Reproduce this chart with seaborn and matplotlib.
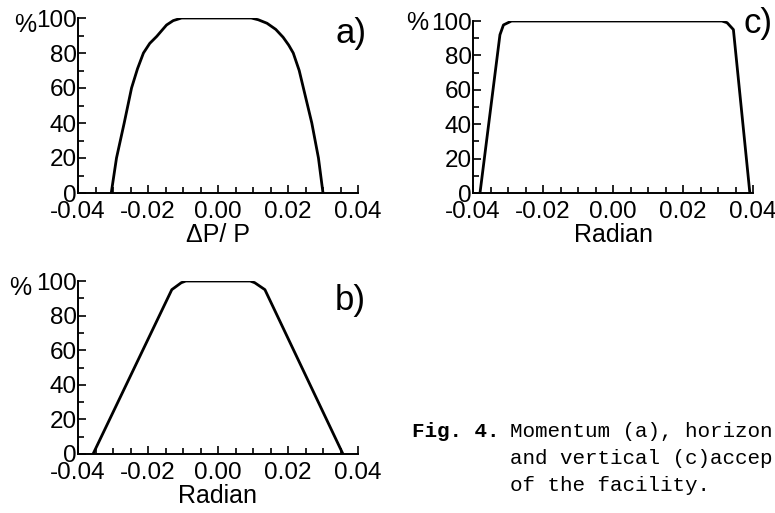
import numpy as np
import pandas as pd
import matplotlib
matplotlib.use("Agg")
import matplotlib.pyplot as plt
from matplotlib.ticker import MultipleLocator
import seaborn as sns

# ---- data ----
a_x = [-0.0305, -0.0290, -0.0268, -0.0247, -0.0230, -0.0213, -0.0195, -0.0175,
       -0.0160, -0.0147, -0.0128, -0.0104, 0.0, 0.0095, 0.0115, 0.0140, 0.0165,
       0.0186, 0.0202, 0.0215, 0.0232, 0.0244, 0.0268, 0.0287, 0.0300]
a_y = [0, 20, 40, 60, 71, 80, 85.5, 89.5, 93, 96, 98.5, 100, 100, 100, 99,
       97, 93.5, 89, 84.5, 80, 70, 60, 40, 20, 0]

b_x = [-0.0357, -0.0132, -0.0105, -0.0092, 0.0092, 0.0105, 0.0134, 0.0357]
b_y = [0, 95, 99, 100, 100, 99, 95, 0]

c_x = [-0.0380, -0.0323, -0.0313, -0.0290, 0.0311, 0.0326, 0.0344, 0.0391]
c_y = [0, 92, 97.7, 100, 100, 99, 95, 0]

x_ticks = [-0.04, -0.02, 0.00, 0.02, 0.04]
x_ticklabels = ["-0.04", "-0.02", "0.00", "0.02", "0.04"]
y_ticks = [0, 20, 40, 60, 80, 100]
y_ticklabels = ["0", "20", "40", "60", "80", "100"]

panels = [
    ("a)", "\u0394P/ P", a_x, a_y),
    ("b)", "Radian", b_x, b_y),
    ("c)", "Radian", c_x, c_y),
]

caption_bold = "Fig. 4."
caption_lines = ["Momentum (a), horizon",
                 "and vertical (c)accep",
                 "of the facility."]

# ---- styling ----
sns.set_theme(style="ticks")
plt.rcParams["font.family"] = ["Liberation Sans", "DejaVu Sans"]

W, H = 775, 513
fig = plt.figure(figsize=(W / 100, H / 100), dpi=100)

def rect(x0, y0, x1, y1):
    # pixel box (top-origin) -> figure fraction rect
    return [x0 / W, 1 - y1 / H, (x1 - x0) / W, (y1 - y0) / H]

boxes = {
    "a)": rect(78, 18, 358, 193),
    "b)": rect(78, 281, 358, 454),
    "c)": rect(473, 21, 753, 193),
}
pct_pos = {"a)": (-0.19, 0.96), "b)": (-0.205, 0.96), "c)": (-0.20, 0.99)}
tag_pos = {"a)": (0.975, 0.91), "b)": (0.971, 0.89), "c)": (1.018, 0.985)}

for tag, xlabel, xs, ys in panels:
    ax = fig.add_axes(boxes[tag])
    df = pd.DataFrame({"x": xs, "y": ys})
    sns.lineplot(data=df, x="x", y="y", ax=ax, sort=False, color="black",
                 linewidth=2.0, estimator=None)
    ax.set_xlim(-0.04, 0.04)
    ax.set_ylim(0, 100)
    ax.set_xticks(x_ticks)
    ax.set_xticklabels(x_ticklabels)
    ax.set_yticks(y_ticks)
    ax.set_yticklabels(y_ticklabels)
    ax.xaxis.set_minor_locator(MultipleLocator(0.005))
    ax.yaxis.set_minor_locator(MultipleLocator(10))
    ax.tick_params(which="both", direction="in", color="black", width=1.2)
    ax.tick_params(which="major", length=6, labelsize=17.5, labelcolor="black")
    ax.tick_params(which="minor", length=4)
    ax.tick_params(axis="y", pad=1)
    ax.tick_params(axis="x", pad=6)
    for s in ["top", "right"]:
        ax.spines[s].set_visible(False)
    for s in ["left", "bottom"]:
        ax.spines[s].set_color("black")
        ax.spines[s].set_linewidth(1.4)
    ax.set_xlabel(xlabel, fontsize=18, color="black", labelpad=0)
    ax.set_ylabel("")
    ax.patch.set_alpha(0)
    px, py = pct_pos[tag]
    ax.text(px, py, "%", transform=ax.transAxes, fontsize=18,
            ha="center", va="center", color="black")
    tx, ty = tag_pos[tag]
    ax.text(tx, ty, tag, transform=ax.transAxes, fontsize=25,
            ha="center", va="center", color="black")

# caption
fig.text(412 / W, 1 - 437 / H, caption_bold, family="Liberation Mono",
         fontsize=15, fontweight="bold", color="black", va="baseline", ha="left")
for i, line in enumerate(caption_lines):
    fig.text(510 / W, 1 - (437 + 27 * i) / H, line, family="Liberation Mono",
             fontsize=15, color="black", va="baseline", ha="left")

fig.savefig("out.png", dpi=100, facecolor="white")
